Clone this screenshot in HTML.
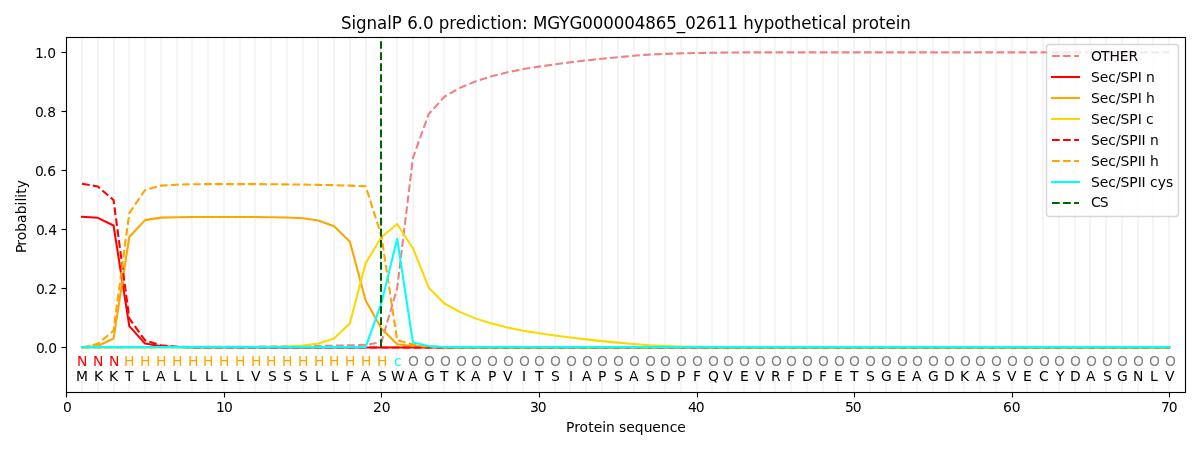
<!DOCTYPE html>
<html lang="en">
<head>
<meta charset="utf-8">
<title>SignalP 6.0 prediction</title>
<style>
html,body{margin:0;padding:0;background:#fff;}
body{width:1200px;height:450px;overflow:hidden;font-family:"DejaVu Sans","Liberation Sans",sans-serif;}
svg{display:block;}
svg text{font-family:"DejaVu Sans","Liberation Sans",sans-serif;}
</style>
</head>
<body>
<svg width="1200" height="450" viewBox="0 0 864 324">
 <defs>
  <style type="text/css">*{stroke-linejoin: round; stroke-linecap: butt}</style>
 </defs>
 <g id="figure_1">
  <g id="patch_1">
   <path d="M 0 324 L 864 324 L 864 0 L 0 0 z" style="fill: #ffffff"/>
  </g>
  <g id="axes_1">
   <g id="patch_2">
    <path d="M 47.52 282.24 L 853.2 282.24 L 853.2 26.64 L 47.52 26.64 z" style="fill: #ffffff"/>
   </g>
   <g id="matplotlib.axis_1">
    <g id="xtick_1">
     <g id="line2d_1">
      <g>
       <path d="M 47.88 282.6 L 47.88 286.2" style="stroke: #000000; stroke-width: 0.8"/>
      </g>
     </g>
     <g id="text_1">
      <text style="font-size:10px" x="45.36" y="296.64">0</text>
     </g>
    </g>
    <g id="xtick_2">
     <g id="line2d_2">
      <g>
       <path d="M 161.64 282.6 L 161.64 286.2" style="stroke: #000000; stroke-width: 0.8"/>
      </g>
     </g>
     <g id="text_2">
      <text style="font-size:10px" x="155.52 161.19" y="296.64">10</text>
     </g>
    </g>
    <g id="xtick_3">
     <g id="line2d_3">
      <g>
       <path d="M 274.68 282.6 L 274.68 286.2" style="stroke: #000000; stroke-width: 0.8"/>
      </g>
     </g>
     <g id="text_3">
      <text style="font-size:10px" x="268.56 274.86" y="296.64">20</text>
     </g>
    </g>
    <g id="xtick_4">
     <g id="line2d_4">
      <g>
       <path d="M 388.44 282.6 L 388.44 286.2" style="stroke: #000000; stroke-width: 0.8"/>
      </g>
     </g>
     <g id="text_4">
      <text style="font-size:10px" x="381.6 387.18" y="296.64">30</text>
     </g>
    </g>
    <g id="xtick_5">
     <g id="line2d_5">
      <g>
       <path d="M 502.2 282.6 L 502.2 286.2" style="stroke: #000000; stroke-width: 0.8"/>
      </g>
     </g>
     <g id="text_5">
      <text style="font-size:10px" x="495.36 500.94" y="296.64">40</text>
     </g>
    </g>
    <g id="xtick_6">
     <g id="line2d_6">
      <g>
       <path d="M 615.24 282.6 L 615.24 286.2" style="stroke: #000000; stroke-width: 0.8"/>
      </g>
     </g>
     <g id="text_6">
      <text style="font-size:10px" x="608.4 613.98" y="296.64">50</text>
     </g>
    </g>
    <g id="xtick_7">
     <g id="line2d_7">
      <g>
       <path d="M 729 282.6 L 729 286.2" style="stroke: #000000; stroke-width: 0.8"/>
      </g>
     </g>
     <g id="text_7">
      <text style="font-size:10px" x="722.16 728.55" y="296.64">60</text>
     </g>
    </g>
    <g id="xtick_8">
     <g id="line2d_8">
      <g>
       <path d="M 842.04 282.6 L 842.04 286.2" style="stroke: #000000; stroke-width: 0.8"/>
      </g>
     </g>
     <g id="text_8">
      <text style="font-size:10px" x="835.92 841.5" y="296.64">70</text>
     </g>
    </g>
    <g id="text_9">
     <text style="font-size:10px" x="407.52 413.37 417.33 423.45 427.41 433.53 436.32 442.62 445.77 450.9 457.02 463.41 469.71 475.83 482.13 487.62" y="311.04">Protein sequence</text>
    </g>
   </g>
   <g id="matplotlib.axis_2">
    <g id="ytick_1">
     <g id="line2d_9">
      <g>
       <path d="M 47.88 250.2 L 44.28 250.2" style="stroke: #000000; stroke-width: 0.8"/>
      </g>
     </g>
     <g id="text_10">
      <text style="font-size:10px" x="25.92 31.5 34.65" y="254.16">0.0</text>
     </g>
    </g>
    <g id="ytick_2">
     <g id="line2d_10">
      <g>
       <path d="M 47.88 207.72 L 44.28 207.72" style="stroke: #000000; stroke-width: 0.8"/>
      </g>
     </g>
     <g id="text_11">
      <text style="font-size:10px" x="25.92 31.5 34.65" y="211.68">0.2</text>
     </g>
    </g>
    <g id="ytick_3">
     <g id="line2d_11">
      <g>
       <path d="M 47.88 165.24 L 44.28 165.24" style="stroke: #000000; stroke-width: 0.8"/>
      </g>
     </g>
     <g id="text_12">
      <text style="font-size:10px" x="25.92 31.5 34.65" y="169.2">0.4</text>
     </g>
    </g>
    <g id="ytick_4">
     <g id="line2d_12">
      <g>
       <path d="M 47.88 122.76 L 44.28 122.76" style="stroke: #000000; stroke-width: 0.8"/>
      </g>
     </g>
     <g id="text_13">
      <text style="font-size:10px" x="25.2 30.78 33.93" y="126.72">0.6</text>
     </g>
    </g>
    <g id="ytick_5">
     <g id="line2d_13">
      <g>
       <path d="M 47.88 80.28 L 44.28 80.28" style="stroke: #000000; stroke-width: 0.8"/>
      </g>
     </g>
     <g id="text_14">
      <text style="font-size:10px" x="25.2 30.78 33.93" y="84.24">0.8</text>
     </g>
    </g>
    <g id="ytick_6">
     <g id="line2d_14">
      <g>
       <path d="M 47.88 37.8 L 44.28 37.8" style="stroke: #000000; stroke-width: 0.8"/>
      </g>
     </g>
     <g id="text_15">
      <text style="font-size:10px" x="25.2 30.87 34.02" y="41.76">1.0</text>
     </g>
    </g>
    <g id="text_16">
     <text style="font-size:10px" transform="translate(18.72 181.3536) rotate(-90)" x="-0.72 4.41 8.37 14.49 20.88 27.09 33.48 36.27 39.06 41.85 45.81" y="0">Probability</text>
    </g>
   </g>
   <g id="line2d_15">
    <path d="M 59.04 282.24 L 59.04 26.64" clip-path="url(#p8faff6e2b7)" style="fill: none; stroke: #f5f5f5; stroke-width: 1.5; stroke-linecap: square"/>
   </g>
   <g id="line2d_16">
    <path d="M 70.56 282.24 L 70.56 26.64" clip-path="url(#p8faff6e2b7)" style="fill: none; stroke: #f5f5f5; stroke-width: 1.5; stroke-linecap: square"/>
   </g>
   <g id="line2d_17">
    <path d="M 82.08 282.24 L 82.08 26.64" clip-path="url(#p8faff6e2b7)" style="fill: none; stroke: #f5f5f5; stroke-width: 1.5; stroke-linecap: square"/>
   </g>
   <g id="line2d_18">
    <path d="M 92.88 282.24 L 92.88 26.64" clip-path="url(#p8faff6e2b7)" style="fill: none; stroke: #f5f5f5; stroke-width: 1.5; stroke-linecap: square"/>
   </g>
   <g id="line2d_19">
    <path d="M 104.4 282.24 L 104.4 26.64" clip-path="url(#p8faff6e2b7)" style="fill: none; stroke: #f5f5f5; stroke-width: 1.5; stroke-linecap: square"/>
   </g>
   <g id="line2d_20">
    <path d="M 115.92 282.24 L 115.92 26.64" clip-path="url(#p8faff6e2b7)" style="fill: none; stroke: #f5f5f5; stroke-width: 1.5; stroke-linecap: square"/>
   </g>
   <g id="line2d_21">
    <path d="M 127.44 282.24 L 127.44 26.64" clip-path="url(#p8faff6e2b7)" style="fill: none; stroke: #f5f5f5; stroke-width: 1.5; stroke-linecap: square"/>
   </g>
   <g id="line2d_22">
    <path d="M 138.24 282.24 L 138.24 26.64" clip-path="url(#p8faff6e2b7)" style="fill: none; stroke: #f5f5f5; stroke-width: 1.5; stroke-linecap: square"/>
   </g>
   <g id="line2d_23">
    <path d="M 149.76 282.24 L 149.76 26.64" clip-path="url(#p8faff6e2b7)" style="fill: none; stroke: #f5f5f5; stroke-width: 1.5; stroke-linecap: square"/>
   </g>
   <g id="line2d_24">
    <path d="M 161.28 282.24 L 161.28 26.64" clip-path="url(#p8faff6e2b7)" style="fill: none; stroke: #f5f5f5; stroke-width: 1.5; stroke-linecap: square"/>
   </g>
   <g id="line2d_25">
    <path d="M 172.8 282.24 L 172.8 26.64" clip-path="url(#p8faff6e2b7)" style="fill: none; stroke: #f5f5f5; stroke-width: 1.5; stroke-linecap: square"/>
   </g>
   <g id="line2d_26">
    <path d="M 183.6 282.24 L 183.6 26.64" clip-path="url(#p8faff6e2b7)" style="fill: none; stroke: #f5f5f5; stroke-width: 1.5; stroke-linecap: square"/>
   </g>
   <g id="line2d_27">
    <path d="M 195.12 282.24 L 195.12 26.64" clip-path="url(#p8faff6e2b7)" style="fill: none; stroke: #f5f5f5; stroke-width: 1.5; stroke-linecap: square"/>
   </g>
   <g id="line2d_28">
    <path d="M 206.64 282.24 L 206.64 26.64" clip-path="url(#p8faff6e2b7)" style="fill: none; stroke: #f5f5f5; stroke-width: 1.5; stroke-linecap: square"/>
   </g>
   <g id="line2d_29">
    <path d="M 218.16 282.24 L 218.16 26.64" clip-path="url(#p8faff6e2b7)" style="fill: none; stroke: #f5f5f5; stroke-width: 1.5; stroke-linecap: square"/>
   </g>
   <g id="line2d_30">
    <path d="M 228.96 282.24 L 228.96 26.64" clip-path="url(#p8faff6e2b7)" style="fill: none; stroke: #f5f5f5; stroke-width: 1.5; stroke-linecap: square"/>
   </g>
   <g id="line2d_31">
    <path d="M 240.48 282.24 L 240.48 26.64" clip-path="url(#p8faff6e2b7)" style="fill: none; stroke: #f5f5f5; stroke-width: 1.5; stroke-linecap: square"/>
   </g>
   <g id="line2d_32">
    <path d="M 252 282.24 L 252 26.64" clip-path="url(#p8faff6e2b7)" style="fill: none; stroke: #f5f5f5; stroke-width: 1.5; stroke-linecap: square"/>
   </g>
   <g id="line2d_33">
    <path d="M 263.52 282.24 L 263.52 26.64" clip-path="url(#p8faff6e2b7)" style="fill: none; stroke: #f5f5f5; stroke-width: 1.5; stroke-linecap: square"/>
   </g>
   <g id="line2d_34">
    <path d="M 274.32 282.24 L 274.32 26.64" clip-path="url(#p8faff6e2b7)" style="fill: none; stroke: #f5f5f5; stroke-width: 1.5; stroke-linecap: square"/>
   </g>
   <g id="line2d_35">
    <path d="M 285.84 282.24 L 285.84 26.64" clip-path="url(#p8faff6e2b7)" style="fill: none; stroke: #f5f5f5; stroke-width: 1.5; stroke-linecap: square"/>
   </g>
   <g id="line2d_36">
    <path d="M 297.36 282.24 L 297.36 26.64" clip-path="url(#p8faff6e2b7)" style="fill: none; stroke: #f5f5f5; stroke-width: 1.5; stroke-linecap: square"/>
   </g>
   <g id="line2d_37">
    <path d="M 308.88 282.24 L 308.88 26.64" clip-path="url(#p8faff6e2b7)" style="fill: none; stroke: #f5f5f5; stroke-width: 1.5; stroke-linecap: square"/>
   </g>
   <g id="line2d_38">
    <path d="M 319.68 282.24 L 319.68 26.64" clip-path="url(#p8faff6e2b7)" style="fill: none; stroke: #f5f5f5; stroke-width: 1.5; stroke-linecap: square"/>
   </g>
   <g id="line2d_39">
    <path d="M 331.2 282.24 L 331.2 26.64" clip-path="url(#p8faff6e2b7)" style="fill: none; stroke: #f5f5f5; stroke-width: 1.5; stroke-linecap: square"/>
   </g>
   <g id="line2d_40">
    <path d="M 342.72 282.24 L 342.72 26.64" clip-path="url(#p8faff6e2b7)" style="fill: none; stroke: #f5f5f5; stroke-width: 1.5; stroke-linecap: square"/>
   </g>
   <g id="line2d_41">
    <path d="M 354.24 282.24 L 354.24 26.64" clip-path="url(#p8faff6e2b7)" style="fill: none; stroke: #f5f5f5; stroke-width: 1.5; stroke-linecap: square"/>
   </g>
   <g id="line2d_42">
    <path d="M 365.04 282.24 L 365.04 26.64" clip-path="url(#p8faff6e2b7)" style="fill: none; stroke: #f5f5f5; stroke-width: 1.5; stroke-linecap: square"/>
   </g>
   <g id="line2d_43">
    <path d="M 376.56 282.24 L 376.56 26.64" clip-path="url(#p8faff6e2b7)" style="fill: none; stroke: #f5f5f5; stroke-width: 1.5; stroke-linecap: square"/>
   </g>
   <g id="line2d_44">
    <path d="M 388.08 282.24 L 388.08 26.64" clip-path="url(#p8faff6e2b7)" style="fill: none; stroke: #f5f5f5; stroke-width: 1.5; stroke-linecap: square"/>
   </g>
   <g id="line2d_45">
    <path d="M 399.6 282.24 L 399.6 26.64" clip-path="url(#p8faff6e2b7)" style="fill: none; stroke: #f5f5f5; stroke-width: 1.5; stroke-linecap: square"/>
   </g>
   <g id="line2d_46">
    <path d="M 410.4 282.24 L 410.4 26.64" clip-path="url(#p8faff6e2b7)" style="fill: none; stroke: #f5f5f5; stroke-width: 1.5; stroke-linecap: square"/>
   </g>
   <g id="line2d_47">
    <path d="M 421.92 282.24 L 421.92 26.64" clip-path="url(#p8faff6e2b7)" style="fill: none; stroke: #f5f5f5; stroke-width: 1.5; stroke-linecap: square"/>
   </g>
   <g id="line2d_48">
    <path d="M 433.44 282.24 L 433.44 26.64" clip-path="url(#p8faff6e2b7)" style="fill: none; stroke: #f5f5f5; stroke-width: 1.5; stroke-linecap: square"/>
   </g>
   <g id="line2d_49">
    <path d="M 444.96 282.24 L 444.96 26.64" clip-path="url(#p8faff6e2b7)" style="fill: none; stroke: #f5f5f5; stroke-width: 1.5; stroke-linecap: square"/>
   </g>
   <g id="line2d_50">
    <path d="M 456.48 282.24 L 456.48 26.64" clip-path="url(#p8faff6e2b7)" style="fill: none; stroke: #f5f5f5; stroke-width: 1.5; stroke-linecap: square"/>
   </g>
   <g id="line2d_51">
    <path d="M 467.28 282.24 L 467.28 26.64" clip-path="url(#p8faff6e2b7)" style="fill: none; stroke: #f5f5f5; stroke-width: 1.5; stroke-linecap: square"/>
   </g>
   <g id="line2d_52">
    <path d="M 478.8 282.24 L 478.8 26.64" clip-path="url(#p8faff6e2b7)" style="fill: none; stroke: #f5f5f5; stroke-width: 1.5; stroke-linecap: square"/>
   </g>
   <g id="line2d_53">
    <path d="M 490.32 282.24 L 490.32 26.64" clip-path="url(#p8faff6e2b7)" style="fill: none; stroke: #f5f5f5; stroke-width: 1.5; stroke-linecap: square"/>
   </g>
   <g id="line2d_54">
    <path d="M 501.84 282.24 L 501.84 26.64" clip-path="url(#p8faff6e2b7)" style="fill: none; stroke: #f5f5f5; stroke-width: 1.5; stroke-linecap: square"/>
   </g>
   <g id="line2d_55">
    <path d="M 512.64 282.24 L 512.64 26.64" clip-path="url(#p8faff6e2b7)" style="fill: none; stroke: #f5f5f5; stroke-width: 1.5; stroke-linecap: square"/>
   </g>
   <g id="line2d_56">
    <path d="M 524.16 282.24 L 524.16 26.64" clip-path="url(#p8faff6e2b7)" style="fill: none; stroke: #f5f5f5; stroke-width: 1.5; stroke-linecap: square"/>
   </g>
   <g id="line2d_57">
    <path d="M 535.68 282.24 L 535.68 26.64" clip-path="url(#p8faff6e2b7)" style="fill: none; stroke: #f5f5f5; stroke-width: 1.5; stroke-linecap: square"/>
   </g>
   <g id="line2d_58">
    <path d="M 547.2 282.24 L 547.2 26.64" clip-path="url(#p8faff6e2b7)" style="fill: none; stroke: #f5f5f5; stroke-width: 1.5; stroke-linecap: square"/>
   </g>
   <g id="line2d_59">
    <path d="M 558 282.24 L 558 26.64" clip-path="url(#p8faff6e2b7)" style="fill: none; stroke: #f5f5f5; stroke-width: 1.5; stroke-linecap: square"/>
   </g>
   <g id="line2d_60">
    <path d="M 569.52 282.24 L 569.52 26.64" clip-path="url(#p8faff6e2b7)" style="fill: none; stroke: #f5f5f5; stroke-width: 1.5; stroke-linecap: square"/>
   </g>
   <g id="line2d_61">
    <path d="M 581.04 282.24 L 581.04 26.64" clip-path="url(#p8faff6e2b7)" style="fill: none; stroke: #f5f5f5; stroke-width: 1.5; stroke-linecap: square"/>
   </g>
   <g id="line2d_62">
    <path d="M 592.56 282.24 L 592.56 26.64" clip-path="url(#p8faff6e2b7)" style="fill: none; stroke: #f5f5f5; stroke-width: 1.5; stroke-linecap: square"/>
   </g>
   <g id="line2d_63">
    <path d="M 603.36 282.24 L 603.36 26.64" clip-path="url(#p8faff6e2b7)" style="fill: none; stroke: #f5f5f5; stroke-width: 1.5; stroke-linecap: square"/>
   </g>
   <g id="line2d_64">
    <path d="M 614.88 282.24 L 614.88 26.64" clip-path="url(#p8faff6e2b7)" style="fill: none; stroke: #f5f5f5; stroke-width: 1.5; stroke-linecap: square"/>
   </g>
   <g id="line2d_65">
    <path d="M 626.4 282.24 L 626.4 26.64" clip-path="url(#p8faff6e2b7)" style="fill: none; stroke: #f5f5f5; stroke-width: 1.5; stroke-linecap: square"/>
   </g>
   <g id="line2d_66">
    <path d="M 637.92 282.24 L 637.92 26.64" clip-path="url(#p8faff6e2b7)" style="fill: none; stroke: #f5f5f5; stroke-width: 1.5; stroke-linecap: square"/>
   </g>
   <g id="line2d_67">
    <path d="M 648.72 282.24 L 648.72 26.64" clip-path="url(#p8faff6e2b7)" style="fill: none; stroke: #f5f5f5; stroke-width: 1.5; stroke-linecap: square"/>
   </g>
   <g id="line2d_68">
    <path d="M 660.24 282.24 L 660.24 26.64" clip-path="url(#p8faff6e2b7)" style="fill: none; stroke: #f5f5f5; stroke-width: 1.5; stroke-linecap: square"/>
   </g>
   <g id="line2d_69">
    <path d="M 671.76 282.24 L 671.76 26.64" clip-path="url(#p8faff6e2b7)" style="fill: none; stroke: #f5f5f5; stroke-width: 1.5; stroke-linecap: square"/>
   </g>
   <g id="line2d_70">
    <path d="M 683.28 282.24 L 683.28 26.64" clip-path="url(#p8faff6e2b7)" style="fill: none; stroke: #f5f5f5; stroke-width: 1.5; stroke-linecap: square"/>
   </g>
   <g id="line2d_71">
    <path d="M 694.08 282.24 L 694.08 26.64" clip-path="url(#p8faff6e2b7)" style="fill: none; stroke: #f5f5f5; stroke-width: 1.5; stroke-linecap: square"/>
   </g>
   <g id="line2d_72">
    <path d="M 705.6 282.24 L 705.6 26.64" clip-path="url(#p8faff6e2b7)" style="fill: none; stroke: #f5f5f5; stroke-width: 1.5; stroke-linecap: square"/>
   </g>
   <g id="line2d_73">
    <path d="M 717.12 282.24 L 717.12 26.64" clip-path="url(#p8faff6e2b7)" style="fill: none; stroke: #f5f5f5; stroke-width: 1.5; stroke-linecap: square"/>
   </g>
   <g id="line2d_74">
    <path d="M 728.64 282.24 L 728.64 26.64" clip-path="url(#p8faff6e2b7)" style="fill: none; stroke: #f5f5f5; stroke-width: 1.5; stroke-linecap: square"/>
   </g>
   <g id="line2d_75">
    <path d="M 739.44 282.24 L 739.44 26.64" clip-path="url(#p8faff6e2b7)" style="fill: none; stroke: #f5f5f5; stroke-width: 1.5; stroke-linecap: square"/>
   </g>
   <g id="line2d_76">
    <path d="M 750.96 282.24 L 750.96 26.64" clip-path="url(#p8faff6e2b7)" style="fill: none; stroke: #f5f5f5; stroke-width: 1.5; stroke-linecap: square"/>
   </g>
   <g id="line2d_77">
    <path d="M 762.48 282.24 L 762.48 26.64" clip-path="url(#p8faff6e2b7)" style="fill: none; stroke: #f5f5f5; stroke-width: 1.5; stroke-linecap: square"/>
   </g>
   <g id="line2d_78">
    <path d="M 774 282.24 L 774 26.64" clip-path="url(#p8faff6e2b7)" style="fill: none; stroke: #f5f5f5; stroke-width: 1.5; stroke-linecap: square"/>
   </g>
   <g id="line2d_79">
    <path d="M 784.8 282.24 L 784.8 26.64" clip-path="url(#p8faff6e2b7)" style="fill: none; stroke: #f5f5f5; stroke-width: 1.5; stroke-linecap: square"/>
   </g>
   <g id="line2d_80">
    <path d="M 796.32 282.24 L 796.32 26.64" clip-path="url(#p8faff6e2b7)" style="fill: none; stroke: #f5f5f5; stroke-width: 1.5; stroke-linecap: square"/>
   </g>
   <g id="line2d_81">
    <path d="M 807.84 282.24 L 807.84 26.64" clip-path="url(#p8faff6e2b7)" style="fill: none; stroke: #f5f5f5; stroke-width: 1.5; stroke-linecap: square"/>
   </g>
   <g id="line2d_82">
    <path d="M 819.36 282.24 L 819.36 26.64" clip-path="url(#p8faff6e2b7)" style="fill: none; stroke: #f5f5f5; stroke-width: 1.5; stroke-linecap: square"/>
   </g>
   <g id="line2d_83">
    <path d="M 830.16 282.24 L 830.16 26.64" clip-path="url(#p8faff6e2b7)" style="fill: none; stroke: #f5f5f5; stroke-width: 1.5; stroke-linecap: square"/>
   </g>
   <g id="line2d_84">
    <path d="M 841.68 282.24 L 841.68 26.64" clip-path="url(#p8faff6e2b7)" style="fill: none; stroke: #f5f5f5; stroke-width: 1.5; stroke-linecap: square"/>
   </g>
   <g id="line2d_85">
    <path d="M 59.064789 250.145 L 70.409577 250.145 L 81.754366 250.145 L 93.099155 250.038683 L 104.443944 249.932367 L 115.788732 249.82605 L 127.133521 249.719733 L 138.47831 249.719733 L 149.823099 249.719733 L 161.167887 249.719733 L 172.512676 249.719733 L 183.857465 249.613417 L 195.202254 249.5071 L 206.547042 249.400783 L 217.891831 249.294467 L 229.23662 249.081833 L 240.581408 248.8692 L 251.926197 248.656567 L 263.270986 248.2313 L 274.615775 246.3176 L 285.960563 207.618333 L 297.305352 113.6344 L 308.650141 82.164667 L 319.99493 69.640563 L 331.339718 63.133983 L 342.684507 58.45605 L 354.029296 54.905073 L 365.374085 52.034523 L 376.718873 49.738083 L 388.063662 47.973227 L 399.408451 46.33595 L 410.753239 44.847517 L 422.098028 43.507927 L 433.442817 42.274653 L 444.787606 41.16896 L 456.132394 40.127057 L 467.477183 39.31905 L 478.821972 38.787467 L 490.166761 38.42599 L 501.511549 38.149567 L 512.856338 37.97946 L 524.201127 37.85188 L 535.545915 37.7243 L 546.890704 37.7243 L 558.235493 37.7243 L 569.580282 37.7243 L 580.92507 37.7243 L 592.269859 37.7243 L 603.614648 37.7243 L 614.959437 37.7243 L 626.304225 37.7243 L 637.649014 37.7243 L 648.993803 37.7243 L 660.338592 37.7243 L 671.68338 37.7243 L 683.028169 37.7243 L 694.372958 37.7243 L 705.717746 37.7243 L 717.062535 37.7243 L 728.407324 37.7243 L 739.752113 37.7243 L 751.096901 37.7243 L 762.44169 37.7243 L 773.786479 37.7243 L 785.131268 37.7243 L 796.476056 37.7243 L 807.820845 37.7243 L 819.165634 37.7243 L 830.510423 37.7243 L 841.855211 37.7243 
" clip-path="url(#p8faff6e2b7)" style="fill: none; stroke-dasharray: 5.55,2.4; stroke-dashoffset: 0; stroke: #f08080; stroke-width: 1.5"/>
   </g>
   <g id="line2d_86">
    <path d="M 59.064789 156.11854 L 70.409577 156.841493 L 81.754366 162.327433 L 93.099155 234.8354 L 104.443944 247.380767 L 115.788732 249.294467 L 127.133521 249.82605 L 138.47831 250.145 L 149.823099 250.145 L 161.167887 250.145 L 172.512676 250.145 L 183.857465 250.145 L 195.202254 250.145 L 206.547042 250.145 L 217.891831 250.145 L 229.23662 250.145 L 240.581408 250.145 L 251.926197 250.145 L 263.270986 250.145 L 274.615775 250.145 L 285.960563 250.145 L 297.305352 250.145 L 308.650141 250.145 L 319.99493 250.145 L 331.339718 250.145 L 342.684507 250.145 L 354.029296 250.145 L 365.374085 250.145 L 376.718873 250.145 L 388.063662 250.145 L 399.408451 250.145 L 410.753239 250.145 L 422.098028 250.145 L 433.442817 250.145 L 444.787606 250.145 L 456.132394 250.145 L 467.477183 250.145 L 478.821972 250.145 L 490.166761 250.145 L 501.511549 250.145 L 512.856338 250.145 L 524.201127 250.145 L 535.545915 250.145 L 546.890704 250.145 L 558.235493 250.145 L 569.580282 250.145 L 580.92507 250.145 L 592.269859 250.145 L 603.614648 250.145 L 614.959437 250.145 L 626.304225 250.145 L 637.649014 250.145 L 648.993803 250.145 L 660.338592 250.145 L 671.68338 250.145 L 683.028169 250.145 L 694.372958 250.145 L 705.717746 250.145 L 717.062535 250.145 L 728.407324 250.145 L 739.752113 250.145 L 751.096901 250.145 L 762.44169 250.145 L 773.786479 250.145 L 785.131268 250.145 L 796.476056 250.145 L 807.820845 250.145 L 819.165634 250.145 L 830.510423 250.145 L 841.855211 250.145 
" clip-path="url(#p8faff6e2b7)" style="fill: none; stroke: #ff0000; stroke-width: 1.5; stroke-linecap: square"/>
   </g>
   <g id="line2d_87">
    <path d="M 59.064789 250.145 L 70.409577 249.081833 L 81.754366 243.766 L 93.099155 170.620133 L 104.443944 158.500033 L 115.788732 156.69265 L 127.133521 156.3737 L 138.47831 156.267383 L 149.823099 156.203593 L 161.167887 156.203593 L 172.512676 156.24612 L 183.857465 156.288647 L 195.202254 156.3737 L 206.547042 156.543807 L 217.891831 157.181707 L 229.23662 158.712667 L 240.581408 162.965333 L 251.926197 174.022267 L 263.270986 216.3363 L 274.615775 236.536467 L 285.960563 247.806033 L 297.305352 249.081833 L 308.650141 249.719733 L 319.99493 250.145 L 331.339718 250.145 L 342.684507 250.145 L 354.029296 250.145 L 365.374085 250.145 L 376.718873 250.145 L 388.063662 250.145 L 399.408451 250.145 L 410.753239 250.145 L 422.098028 250.145 L 433.442817 250.145 L 444.787606 250.145 L 456.132394 250.145 L 467.477183 250.145 L 478.821972 250.145 L 490.166761 250.145 L 501.511549 250.145 L 512.856338 250.145 L 524.201127 250.145 L 535.545915 250.145 L 546.890704 250.145 L 558.235493 250.145 L 569.580282 250.145 L 580.92507 250.145 L 592.269859 250.145 L 603.614648 250.145 L 614.959437 250.145 L 626.304225 250.145 L 637.649014 250.145 L 648.993803 250.145 L 660.338592 250.145 L 671.68338 250.145 L 683.028169 250.145 L 694.372958 250.145 L 705.717746 250.145 L 717.062535 250.145 L 728.407324 250.145 L 739.752113 250.145 L 751.096901 250.145 L 762.44169 250.145 L 773.786479 250.145 L 785.131268 250.145 L 796.476056 250.145 L 807.820845 250.145 L 819.165634 250.145 L 830.510423 250.145 L 841.855211 250.145 
" clip-path="url(#p8faff6e2b7)" style="fill: none; stroke: #ffa500; stroke-width: 1.5; stroke-linecap: square"/>
   </g>
   <g id="line2d_88">
    <path d="M 59.064789 250.145 L 70.409577 250.145 L 81.754366 250.145 L 93.099155 250.145 L 104.443944 250.145 L 115.788732 250.145 L 127.133521 250.145 L 138.47831 250.145 L 149.823099 250.145 L 161.167887 250.145 L 172.512676 250.145 L 183.857465 250.145 L 195.202254 249.719733 L 206.547042 249.5071 L 217.891831 248.8692 L 229.23662 247.380767 L 240.581408 243.766 L 251.926197 232.709067 L 263.270986 189.438183 L 274.615775 170.832767 L 285.960563 161.306793 L 297.305352 178.7002 L 308.650141 206.980433 L 319.99493 218.547687 L 331.339718 224.735317 L 342.684507 229.41325 L 354.029296 232.964227 L 365.374085 235.834777 L 376.718873 238.131217 L 388.063662 239.896073 L 399.408451 241.53335 L 410.753239 243.021783 L 422.098028 244.361373 L 433.442817 245.594647 L 444.787606 246.70034 L 456.132394 247.742243 L 467.477183 248.55025 L 478.821972 249.081833 L 490.166761 249.44331 L 501.511549 249.719733 L 512.856338 249.88984 L 524.201127 250.01742 L 535.545915 250.145 L 546.890704 250.145 L 558.235493 250.145 L 569.580282 250.145 L 580.92507 250.145 L 592.269859 250.145 L 603.614648 250.145 L 614.959437 250.145 L 626.304225 250.145 L 637.649014 250.145 L 648.993803 250.145 L 660.338592 250.145 L 671.68338 250.145 L 683.028169 250.145 L 694.372958 250.145 L 705.717746 250.145 L 717.062535 250.145 L 728.407324 250.145 L 739.752113 250.145 L 751.096901 250.145 L 762.44169 250.145 L 773.786479 250.145 L 785.131268 250.145 L 796.476056 250.145 L 807.820845 250.145 L 819.165634 250.145 L 830.510423 250.145 L 841.855211 250.145 
" clip-path="url(#p8faff6e2b7)" style="fill: none; stroke: #ffd700; stroke-width: 1.5; stroke-linecap: square"/>
   </g>
   <g id="line2d_89">
    <path d="M 59.064789 132.239817 L 70.409577 134.259833 L 81.754366 144.040967 L 93.099155 229.306933 L 104.443944 245.0418 L 115.788732 248.656567 L 127.133521 249.719733 L 138.47831 250.145 L 149.823099 250.145 L 161.167887 250.145 L 172.512676 250.145 L 183.857465 250.145 L 195.202254 250.145 L 206.547042 250.145 L 217.891831 250.145 L 229.23662 250.145 L 240.581408 250.145 L 251.926197 250.145 L 263.270986 250.145 L 274.615775 250.145 L 285.960563 250.145 L 297.305352 250.145 L 308.650141 250.145 L 319.99493 250.145 L 331.339718 250.145 L 342.684507 250.145 L 354.029296 250.145 L 365.374085 250.145 L 376.718873 250.145 L 388.063662 250.145 L 399.408451 250.145 L 410.753239 250.145 L 422.098028 250.145 L 433.442817 250.145 L 444.787606 250.145 L 456.132394 250.145 L 467.477183 250.145 L 478.821972 250.145 L 490.166761 250.145 L 501.511549 250.145 L 512.856338 250.145 L 524.201127 250.145 L 535.545915 250.145 L 546.890704 250.145 L 558.235493 250.145 L 569.580282 250.145 L 580.92507 250.145 L 592.269859 250.145 L 603.614648 250.145 L 614.959437 250.145 L 626.304225 250.145 L 637.649014 250.145 L 648.993803 250.145 L 660.338592 250.145 L 671.68338 250.145 L 683.028169 250.145 L 694.372958 250.145 L 705.717746 250.145 L 717.062535 250.145 L 728.407324 250.145 L 739.752113 250.145 L 751.096901 250.145 L 762.44169 250.145 L 773.786479 250.145 L 785.131268 250.145 L 796.476056 250.145 L 807.820845 250.145 L 819.165634 250.145 L 830.510423 250.145 L 841.855211 250.145 
" clip-path="url(#p8faff6e2b7)" style="fill: none; stroke-dasharray: 5.55,2.4; stroke-dashoffset: 0; stroke: #ff0000; stroke-width: 1.5"/>
   </g>
   <g id="line2d_90">
    <path d="M 59.064789 250.145 L 70.409577 247.5934 L 81.754366 238.0249 L 93.099155 153.396833 L 104.443944 136.811433 L 115.788732 133.621933 L 127.133521 132.984033 L 138.47831 132.665083 L 149.823099 132.558767 L 161.167887 132.558767 L 172.512676 132.558767 L 183.857465 132.558767 L 195.202254 132.665083 L 206.547042 132.7714 L 217.891831 132.877717 L 229.23662 133.09035 L 240.581408 133.302983 L 251.926197 133.621933 L 263.270986 134.153517 L 274.615775 169.7696 L 285.960563 245.0418 L 297.305352 248.018667 L 308.650141 249.5071 L 319.99493 249.932367 L 331.339718 250.145 L 342.684507 250.145 L 354.029296 250.145 L 365.374085 250.145 L 376.718873 250.145 L 388.063662 250.145 L 399.408451 250.145 L 410.753239 250.145 L 422.098028 250.145 L 433.442817 250.145 L 444.787606 250.145 L 456.132394 250.145 L 467.477183 250.145 L 478.821972 250.145 L 490.166761 250.145 L 501.511549 250.145 L 512.856338 250.145 L 524.201127 250.145 L 535.545915 250.145 L 546.890704 250.145 L 558.235493 250.145 L 569.580282 250.145 L 580.92507 250.145 L 592.269859 250.145 L 603.614648 250.145 L 614.959437 250.145 L 626.304225 250.145 L 637.649014 250.145 L 648.993803 250.145 L 660.338592 250.145 L 671.68338 250.145 L 683.028169 250.145 L 694.372958 250.145 L 705.717746 250.145 L 717.062535 250.145 L 728.407324 250.145 L 739.752113 250.145 L 751.096901 250.145 L 762.44169 250.145 L 773.786479 250.145 L 785.131268 250.145 L 796.476056 250.145 L 807.820845 250.145 L 819.165634 250.145 L 830.510423 250.145 L 841.855211 250.145 
" clip-path="url(#p8faff6e2b7)" style="fill: none; stroke-dasharray: 5.55,2.4; stroke-dashoffset: 0; stroke: #ffa500; stroke-width: 1.5"/>
   </g>
   <g id="line2d_91">
    <path d="M 59.064789 249.932367 L 70.409577 249.932367 L 81.754366 249.932367 L 93.099155 249.932367 L 104.443944 249.932367 L 115.788732 249.932367 L 127.133521 249.932367 L 138.47831 249.932367 L 149.823099 249.932367 L 161.167887 249.932367 L 172.512676 249.932367 L 183.857465 249.932367 L 195.202254 249.932367 L 206.547042 249.932367 L 217.891831 249.932367 L 229.23662 249.932367 L 240.581408 249.932367 L 251.926197 249.932367 L 263.270986 249.932367 L 274.615775 218.25 L 285.960563 171.895933 L 297.305352 246.63655 L 308.650141 249.18815 L 319.99493 249.82605 L 331.339718 249.932367 L 342.684507 249.932367 L 354.029296 249.932367 L 365.374085 249.932367 L 376.718873 249.932367 L 388.063662 249.932367 L 399.408451 249.932367 L 410.753239 249.932367 L 422.098028 249.932367 L 433.442817 249.932367 L 444.787606 249.932367 L 456.132394 249.932367 L 467.477183 249.932367 L 478.821972 249.932367 L 490.166761 249.932367 L 501.511549 249.932367 L 512.856338 249.932367 L 524.201127 249.932367 L 535.545915 249.932367 L 546.890704 249.932367 L 558.235493 249.932367 L 569.580282 249.932367 L 580.92507 249.932367 L 592.269859 249.932367 L 603.614648 249.932367 L 614.959437 249.932367 L 626.304225 249.932367 L 637.649014 249.932367 L 648.993803 249.932367 L 660.338592 249.932367 L 671.68338 249.932367 L 683.028169 249.932367 L 694.372958 249.932367 L 705.717746 249.932367 L 717.062535 249.932367 L 728.407324 249.932367 L 739.752113 249.932367 L 751.096901 249.932367 L 762.44169 249.932367 L 773.786479 249.932367 L 785.131268 249.932367 L 796.476056 249.932367 L 807.820845 249.932367 L 819.165634 249.932367 L 830.510423 249.932367 L 841.855211 249.932367 
" clip-path="url(#p8faff6e2b7)" style="fill: none; stroke: #00ffff; stroke-width: 1.5; stroke-linecap: square"/>
   </g>
   <g id="line2d_92">
    <path d="M 274.32 249.84 L 274.32 26.64" clip-path="url(#p8faff6e2b7)" style="fill: none; stroke-dasharray: 5.55,2.4; stroke-dashoffset: 0; stroke: #006400; stroke-width: 1.5"/>
   </g>
   <g id="patch_3">
    <path d="M 47.88 282.6 L 47.88 27" style="fill: none; stroke: #000000; stroke-width: 0.8; stroke-linejoin: miter; stroke-linecap: square"/>
   </g>
   <g id="patch_4">
    <path d="M 853.56 282.6 L 853.56 27" style="fill: none; stroke: #000000; stroke-width: 0.8; stroke-linejoin: miter; stroke-linecap: square"/>
   </g>
   <g id="patch_5">
    <path d="M 47.48 282.6 L 853.96 282.6" style="fill: none; stroke: #000000; stroke-width: 0.72"/><path d="M 47.48 281.88 L 853.96 281.88" style="fill: none; stroke: #000000; stroke-opacity: 0.055; stroke-width: 0.72"/><path d="M 47.48 283.32 L 853.96 283.32" style="fill: none; stroke: #000000; stroke-opacity: 0.055; stroke-width: 0.72"/>
   </g>
   <g id="patch_6">
    <path d="M 47.48 27 L 853.96 27" style="fill: none; stroke: #000000; stroke-width: 0.72"/><path d="M 47.48 26.28 L 853.96 26.28" style="fill: none; stroke: #000000; stroke-opacity: 0.055; stroke-width: 0.72"/><path d="M 47.48 27.72 L 853.96 27.72" style="fill: none; stroke: #000000; stroke-opacity: 0.055; stroke-width: 0.72"/>
   </g>
   <g id="text_17">
    <text style="font-size:10px;fill:#ff0000" x="55.44" y="263.52">N</text>
   </g>
   <g id="text_18">
    <text style="font-size:10px" x="54.72" y="274.32">M</text>
   </g>
   <g id="text_19">
    <text style="font-size:10px;fill:#ff0000" x="66.96" y="263.52">N</text>
   </g>
   <g id="text_20">
    <text style="font-size:10px" x="67.68" y="274.32">K</text>
   </g>
   <g id="text_21">
    <text style="font-size:10px;fill:#ff0000" x="78.48" y="263.52">N</text>
   </g>
   <g id="text_22">
    <text style="font-size:10px" x="78.48" y="274.32">K</text>
   </g>
   <g id="text_23">
    <text style="font-size:10px;fill:#ffa500" x="89.28" y="263.52">H</text>
   </g>
   <g id="text_24">
    <text style="font-size:10px" x="90" y="274.32">T</text>
   </g>
   <g id="text_25">
    <text style="font-size:10px;fill:#ffa500" x="100.8" y="263.52">H</text>
   </g>
   <g id="text_26">
    <text style="font-size:10px" x="102.24" y="274.32">L</text>
   </g>
   <g id="text_27">
    <text style="font-size:10px;fill:#ffa500" x="112.32" y="263.52">H</text>
   </g>
   <g id="text_28">
    <text style="font-size:10px" x="112.32" y="274.32">A</text>
   </g>
   <g id="text_29">
    <text style="font-size:10px;fill:#ffa500" x="123.84" y="263.52">H</text>
   </g>
   <g id="text_30">
    <text style="font-size:10px" x="124.56" y="274.32">L</text>
   </g>
   <g id="text_31">
    <text style="font-size:10px;fill:#ffa500" x="135.36" y="263.52">H</text>
   </g>
   <g id="text_32">
    <text style="font-size:10px" x="136.08" y="274.32">L</text>
   </g>
   <g id="text_33">
    <text style="font-size:10px;fill:#ffa500" x="146.16" y="263.52">H</text>
   </g>
   <g id="text_34">
    <text style="font-size:10px" x="147.6" y="274.32">L</text>
   </g>
   <g id="text_35">
    <text style="font-size:10px;fill:#ffa500" x="157.68" y="263.52">H</text>
   </g>
   <g id="text_36">
    <text style="font-size:10px" x="158.4" y="274.32">L</text>
   </g>
   <g id="text_37">
    <text style="font-size:10px;fill:#ffa500" x="169.2" y="263.52">H</text>
   </g>
   <g id="text_38">
    <text style="font-size:10px" x="169.92" y="274.32">L</text>
   </g>
   <g id="text_39">
    <text style="font-size:10px;fill:#ffa500" x="180.72" y="263.52">H</text>
   </g>
   <g id="text_40">
    <text style="font-size:10px" x="180.72" y="274.32">V</text>
   </g>
   <g id="text_41">
    <text style="font-size:10px;fill:#ffa500" x="191.52" y="263.52">H</text>
   </g>
   <g id="text_42">
    <text style="font-size:10px" x="192.96" y="274.32">S</text>
   </g>
   <g id="text_43">
    <text style="font-size:10px;fill:#ffa500" x="203.04" y="263.52">H</text>
   </g>
   <g id="text_44">
    <text style="font-size:10px" x="203.76" y="274.32">S</text>
   </g>
   <g id="text_45">
    <text style="font-size:10px;fill:#ffa500" x="214.56" y="263.52">H</text>
   </g>
   <g id="text_46">
    <text style="font-size:10px" x="215.28" y="274.32">S</text>
   </g>
   <g id="text_47">
    <text style="font-size:10px;fill:#ffa500" x="226.08" y="263.52">H</text>
   </g>
   <g id="text_48">
    <text style="font-size:10px" x="226.8" y="274.32">L</text>
   </g>
   <g id="text_49">
    <text style="font-size:10px;fill:#ffa500" x="236.88" y="263.52">H</text>
   </g>
   <g id="text_50">
    <text style="font-size:10px" x="238.32" y="274.32">L</text>
   </g>
   <g id="text_51">
    <text style="font-size:10px;fill:#ffa500" x="248.4" y="263.52">H</text>
   </g>
   <g id="text_52">
    <text style="font-size:10px" x="249.12" y="274.32">F</text>
   </g>
   <g id="text_53">
    <text style="font-size:10px;fill:#ffa500" x="259.92" y="263.52">H</text>
   </g>
   <g id="text_54">
    <text style="font-size:10px" x="259.92" y="274.32">A</text>
   </g>
   <g id="text_55">
    <text style="font-size:10px;fill:#ffa500" x="271.44" y="263.52">H</text>
   </g>
   <g id="text_56">
    <text style="font-size:10px" x="272.16" y="274.32">S</text>
   </g>
   <g id="text_57">
    <text style="font-size:10px;fill:#00ffff" x="283.68" y="263.52">c</text>
   </g>
   <g id="text_58">
    <text style="font-size:10px" x="281.52" y="274.32">W</text>
   </g>
   <g id="text_59">
    <text style="font-size:10px;fill:#808080" x="293.76" y="263.52">O</text>
   </g>
   <g id="text_60">
    <text style="font-size:10px" x="293.76" y="274.32">A</text>
   </g>
   <g id="text_61">
    <text style="font-size:10px;fill:#808080" x="305.28" y="263.52">O</text>
   </g>
   <g id="text_62">
    <text style="font-size:10px" x="305.28" y="274.32">G</text>
   </g>
   <g id="text_63">
    <text style="font-size:10px;fill:#808080" x="316.8" y="263.52">O</text>
   </g>
   <g id="text_64">
    <text style="font-size:10px" x="316.8" y="274.32">T</text>
   </g>
   <g id="text_65">
    <text style="font-size:10px;fill:#808080" x="328.32" y="263.52">O</text>
   </g>
   <g id="text_66">
    <text style="font-size:10px" x="328.32" y="274.32">K</text>
   </g>
   <g id="text_67">
    <text style="font-size:10px;fill:#808080" x="339.12" y="263.52">O</text>
   </g>
   <g id="text_68">
    <text style="font-size:10px" x="339.12" y="274.32">A</text>
   </g>
   <g id="text_69">
    <text style="font-size:10px;fill:#808080" x="350.64" y="263.52">O</text>
   </g>
   <g id="text_70">
    <text style="font-size:10px" x="351.36" y="274.32">P</text>
   </g>
   <g id="text_71">
    <text style="font-size:10px;fill:#808080" x="362.16" y="263.52">O</text>
   </g>
   <g id="text_72">
    <text style="font-size:10px" x="362.16" y="274.32">V</text>
   </g>
   <g id="text_73">
    <text style="font-size:10px;fill:#808080" x="373.68" y="263.52">O</text>
   </g>
   <g id="text_74">
    <text style="font-size:10px" x="375.84" y="274.32">I</text>
   </g>
   <g id="text_75">
    <text style="font-size:10px;fill:#808080" x="384.48" y="263.52">O</text>
   </g>
   <g id="text_76">
    <text style="font-size:10px" x="385.2" y="274.32">T</text>
   </g>
   <g id="text_77">
    <text style="font-size:10px;fill:#808080" x="396" y="263.52">O</text>
   </g>
   <g id="text_78">
    <text style="font-size:10px" x="396.72" y="274.32">S</text>
   </g>
   <g id="text_79">
    <text style="font-size:10px;fill:#808080" x="407.52" y="263.52">O</text>
   </g>
   <g id="text_80">
    <text style="font-size:10px" x="409.68" y="274.32">I</text>
   </g>
   <g id="text_81">
    <text style="font-size:10px;fill:#808080" x="419.04" y="263.52">O</text>
   </g>
   <g id="text_82">
    <text style="font-size:10px" x="419.04" y="274.32">A</text>
   </g>
   <g id="text_83">
    <text style="font-size:10px;fill:#808080" x="429.84" y="263.52">O</text>
   </g>
   <g id="text_84">
    <text style="font-size:10px" x="430.56" y="274.32">P</text>
   </g>
   <g id="text_85">
    <text style="font-size:10px;fill:#808080" x="441.36" y="263.52">O</text>
   </g>
   <g id="text_86">
    <text style="font-size:10px" x="442.08" y="274.32">S</text>
   </g>
   <g id="text_87">
    <text style="font-size:10px;fill:#808080" x="452.88" y="263.52">O</text>
   </g>
   <g id="text_88">
    <text style="font-size:10px" x="452.88" y="274.32">A</text>
   </g>
   <g id="text_89">
    <text style="font-size:10px;fill:#808080" x="464.4" y="263.52">O</text>
   </g>
   <g id="text_90">
    <text style="font-size:10px" x="465.12" y="274.32">S</text>
   </g>
   <g id="text_91">
    <text style="font-size:10px;fill:#808080" x="475.2" y="263.52">O</text>
   </g>
   <g id="text_92">
    <text style="font-size:10px" x="475.2" y="274.32">D</text>
   </g>
   <g id="text_93">
    <text style="font-size:10px;fill:#808080" x="486.72" y="263.52">O</text>
   </g>
   <g id="text_94">
    <text style="font-size:10px" x="487.44" y="274.32">P</text>
   </g>
   <g id="text_95">
    <text style="font-size:10px;fill:#808080" x="498.24" y="263.52">O</text>
   </g>
   <g id="text_96">
    <text style="font-size:10px" x="498.96" y="274.32">F</text>
   </g>
   <g id="text_97">
    <text style="font-size:10px;fill:#808080" x="509.76" y="263.52">O</text>
   </g>
   <g id="text_98">
    <text style="font-size:10px" x="509.76" y="274.32">Q</text>
   </g>
   <g id="text_99">
    <text style="font-size:10px;fill:#808080" x="520.56" y="263.52">O</text>
   </g>
   <g id="text_100">
    <text style="font-size:10px" x="520.56" y="274.32">V</text>
   </g>
   <g id="text_101">
    <text style="font-size:10px;fill:#808080" x="532.08" y="263.52">O</text>
   </g>
   <g id="text_102">
    <text style="font-size:10px" x="532.8" y="274.32">E</text>
   </g>
   <g id="text_103">
    <text style="font-size:10px;fill:#808080" x="543.6" y="263.52">O</text>
   </g>
   <g id="text_104">
    <text style="font-size:10px" x="543.6" y="274.32">V</text>
   </g>
   <g id="text_105">
    <text style="font-size:10px;fill:#808080" x="555.12" y="263.52">O</text>
   </g>
   <g id="text_106">
    <text style="font-size:10px" x="555.12" y="274.32">R</text>
   </g>
   <g id="text_107">
    <text style="font-size:10px;fill:#808080" x="565.92" y="263.52">O</text>
   </g>
   <g id="text_108">
    <text style="font-size:10px" x="566.64" y="274.32">F</text>
   </g>
   <g id="text_109">
    <text style="font-size:10px;fill:#808080" x="577.44" y="263.52">O</text>
   </g>
   <g id="text_110">
    <text style="font-size:10px" x="577.44" y="274.32">D</text>
   </g>
   <g id="text_111">
    <text style="font-size:10px;fill:#808080" x="588.96" y="263.52">O</text>
   </g>
   <g id="text_112">
    <text style="font-size:10px" x="589.68" y="274.32">F</text>
   </g>
   <g id="text_113">
    <text style="font-size:10px;fill:#808080" x="600.48" y="263.52">O</text>
   </g>
   <g id="text_114">
    <text style="font-size:10px" x="600.48" y="274.32">E</text>
   </g>
   <g id="text_115">
    <text style="font-size:10px;fill:#808080" x="611.28" y="263.52">O</text>
   </g>
   <g id="text_116">
    <text style="font-size:10px" x="612" y="274.32">T</text>
   </g>
   <g id="text_117">
    <text style="font-size:10px;fill:#808080" x="622.8" y="263.52">O</text>
   </g>
   <g id="text_118">
    <text style="font-size:10px" x="623.52" y="274.32">S</text>
   </g>
   <g id="text_119">
    <text style="font-size:10px;fill:#808080" x="634.32" y="263.52">O</text>
   </g>
   <g id="text_120">
    <text style="font-size:10px" x="634.32" y="274.32">G</text>
   </g>
   <g id="text_121">
    <text style="font-size:10px;fill:#808080" x="645.84" y="263.52">O</text>
   </g>
   <g id="text_122">
    <text style="font-size:10px" x="645.84" y="274.32">E</text>
   </g>
   <g id="text_123">
    <text style="font-size:10px;fill:#808080" x="656.64" y="263.52">O</text>
   </g>
   <g id="text_124">
    <text style="font-size:10px" x="656.64" y="274.32">A</text>
   </g>
   <g id="text_125">
    <text style="font-size:10px;fill:#808080" x="668.16" y="263.52">O</text>
   </g>
   <g id="text_126">
    <text style="font-size:10px" x="668.16" y="274.32">G</text>
   </g>
   <g id="text_127">
    <text style="font-size:10px;fill:#808080" x="679.68" y="263.52">O</text>
   </g>
   <g id="text_128">
    <text style="font-size:10px" x="679.68" y="274.32">D</text>
   </g>
   <g id="text_129">
    <text style="font-size:10px;fill:#808080" x="691.2" y="263.52">O</text>
   </g>
   <g id="text_130">
    <text style="font-size:10px" x="691.2" y="274.32">K</text>
   </g>
   <g id="text_131">
    <text style="font-size:10px;fill:#808080" x="702" y="263.52">O</text>
   </g>
   <g id="text_132">
    <text style="font-size:10px" x="702.72" y="274.32">A</text>
   </g>
   <g id="text_133">
    <text style="font-size:10px;fill:#808080" x="713.52" y="263.52">O</text>
   </g>
   <g id="text_134">
    <text style="font-size:10px" x="714.24" y="274.32">S</text>
   </g>
   <g id="text_135">
    <text style="font-size:10px;fill:#808080" x="725.04" y="263.52">O</text>
   </g>
   <g id="text_136">
    <text style="font-size:10px" x="725.04" y="274.32">V</text>
   </g>
   <g id="text_137">
    <text style="font-size:10px;fill:#808080" x="736.56" y="263.52">O</text>
   </g>
   <g id="text_138">
    <text style="font-size:10px" x="736.56" y="274.32">E</text>
   </g>
   <g id="text_139">
    <text style="font-size:10px;fill:#808080" x="748.08" y="263.52">O</text>
   </g>
   <g id="text_140">
    <text style="font-size:10px" x="748.08" y="274.32">C</text>
   </g>
   <g id="text_141">
    <text style="font-size:10px;fill:#808080" x="758.88" y="263.52">O</text>
   </g>
   <g id="text_142">
    <text style="font-size:10px" x="760.32" y="274.32">Y</text>
   </g>
   <g id="text_143">
    <text style="font-size:10px;fill:#808080" x="770.4" y="263.52">O</text>
   </g>
   <g id="text_144">
    <text style="font-size:10px" x="770.4" y="274.32">D</text>
   </g>
   <g id="text_145">
    <text style="font-size:10px;fill:#808080" x="781.92" y="263.52">O</text>
   </g>
   <g id="text_146">
    <text style="font-size:10px" x="781.92" y="274.32">A</text>
   </g>
   <g id="text_147">
    <text style="font-size:10px;fill:#808080" x="793.44" y="263.52">O</text>
   </g>
   <g id="text_148">
    <text style="font-size:10px" x="794.16" y="274.32">S</text>
   </g>
   <g id="text_149">
    <text style="font-size:10px;fill:#808080" x="804.24" y="263.52">O</text>
   </g>
   <g id="text_150">
    <text style="font-size:10px" x="804.24" y="274.32">G</text>
   </g>
   <g id="text_151">
    <text style="font-size:10px;fill:#808080" x="815.76" y="263.52">O</text>
   </g>
   <g id="text_152">
    <text style="font-size:10px" x="815.76" y="274.32">N</text>
   </g>
   <g id="text_153">
    <text style="font-size:10px;fill:#808080" x="827.28" y="263.52">O</text>
   </g>
   <g id="text_154">
    <text style="font-size:10px" x="828" y="274.32">L</text>
   </g>
   <g id="text_155">
    <text style="font-size:10px;fill:#808080" x="838.8" y="263.52">O</text>
   </g>
   <g id="text_156">
    <text style="font-size:10px" x="838.8" y="274.32">V</text>
   </g>
   <g id="text_157">
    <text style="font-size:12px" transform="translate(0 20.88) scale(1 1.01) translate(0 -20.88)" x="245.52 253.08 256.41 263.97 271.53 278.82 282.15 289.44 293.22 300.78 304.56 312.12 315.9 323.46 328.14 335.52 343.08 346.41 352.98 357.66 360.99 368.28 375.84 379.98 383.76 394.11 402.75 410.04 419.31 426.87 434.43 441.99 449.55 457.11 464.67 472.23 479.79 487.35 493.38 500.94 508.59 516.15 523.8 531.45 535.23 542.79 549.9 557.46 564.75 569.43 576.99 584.37 589.05 592.38 598.95 606.24 609.57 613.35 620.91 625.59 632.88 637.56 644.94 648.27" y="20.88">SignalP 6.0 prediction: MGYG000004865_02611 hypothetical protein</text>
   </g>
   <g id="legend_1">
    <g id="patch_7">
     <path d="M 755.64 155.88 L 846.36 155.88 Q 848.52 155.88 848.52 153.72 L 848.52 34.2 Q 848.52 32.04 846.36 32.04 L 755.64 32.04 Q 753.48 32.04 753.48 34.2 L 753.48 153.72 Q 753.48 155.88 755.64 155.88 z" style="fill: #ffffff; opacity: 0.8; stroke: #cccccc; stroke-linejoin: miter"/>
    </g>
    <g id="line2d_93">
     <path d="M 757.44 40.32 L 767.52 40.32 L 776.88 40.32" style="fill: none; stroke-dasharray: 5.55,2.4; stroke-dashoffset: 0; stroke: #f08080; stroke-width: 1.5"/>
    </g>
    <g id="text_158">
     <text style="font-size:10px" x="785.52 792.63 798.75 806.22 812.52" y="43.92">OTHER</text>
    </g>
    <g id="line2d_94">
     <path d="M 757.44 55.44 L 767.52 55.44 L 776.88 55.44" style="fill: none; stroke: #ff0000; stroke-width: 1.5; stroke-linecap: square"/>
    </g>
    <g id="text_159">
     <text style="font-size:10px" x="785.52 791.82 797.94 803.43 806.76 813.06 819.09 821.97 825.12" y="59.04">Sec/SPI n</text>
    </g>
    <g id="line2d_95">
     <path d="M 757.44 70.56 L 767.52 70.56 L 776.88 70.56" style="fill: none; stroke: #ffa500; stroke-width: 1.5; stroke-linecap: square"/>
    </g>
    <g id="text_160">
     <text style="font-size:10px" x="785.52 791.82 797.94 803.43 806.76 813.06 819.09 821.97 825.12" y="74.16">Sec/SPI h</text>
    </g>
    <g id="line2d_96">
     <path d="M 757.44 85.68 L 767.52 85.68 L 776.88 85.68" style="fill: none; stroke: #ffd700; stroke-width: 1.5; stroke-linecap: square"/>
    </g>
    <g id="text_161">
     <text style="font-size:10px" x="785.52 791.82 797.94 803.43 806.76 813.06 819.09 821.97 825.12" y="89.28">Sec/SPI c</text>
    </g>
    <g id="line2d_97">
     <path d="M 757.44 100.8 L 767.52 100.8 L 776.88 100.8" style="fill: none; stroke-dasharray: 5.55,2.4; stroke-dashoffset: 0; stroke: #ff0000; stroke-width: 1.5"/>
    </g>
    <g id="text_162">
     <text style="font-size:10px" x="785.52 791.82 797.94 803.43 806.76 813.06 819.09 821.97 824.85 828" y="104.4">Sec/SPII n</text>
    </g>
    <g id="line2d_98">
     <path d="M 757.44 115.92 L 767.52 115.92 L 776.88 115.92" style="fill: none; stroke-dasharray: 5.55,2.4; stroke-dashoffset: 0; stroke: #ffa500; stroke-width: 1.5"/>
    </g>
    <g id="text_163">
     <text style="font-size:10px" x="785.52 791.82 797.94 803.43 806.76 813.06 819.09 821.97 824.85 828" y="119.52">Sec/SPII h</text>
    </g>
    <g id="line2d_99">
     <path d="M 757.44 131.04 L 767.52 131.04 L 776.88 131.04" style="fill: none; stroke: #00ffff; stroke-width: 1.5; stroke-linecap: square"/>
    </g>
    <g id="text_164">
     <text style="font-size:10px" x="785.52 791.82 797.94 803.43 806.76 813.06 819.09 821.97 824.85 828 833.49 839.43" y="134.64">Sec/SPII cys</text>
    </g>
    <g id="line2d_100">
     <path d="M 757.44 146.16 L 767.52 146.16 L 776.88 146.16" style="fill: none; stroke-dasharray: 5.55,2.4; stroke-dashoffset: 0; stroke: #006400; stroke-width: 1.5"/>
    </g>
    <g id="text_165">
     <text style="font-size:10px" x="785.52 791.82" y="149.04">CS</text>
    </g>
   </g>
  </g>
 </g>
 <defs>
  <clipPath id="p8faff6e2b7">
   <rect x="47.72" y="26.88" width="805.48" height="255.16"/>
  </clipPath>
 </defs>
</svg>

</body>
</html>
